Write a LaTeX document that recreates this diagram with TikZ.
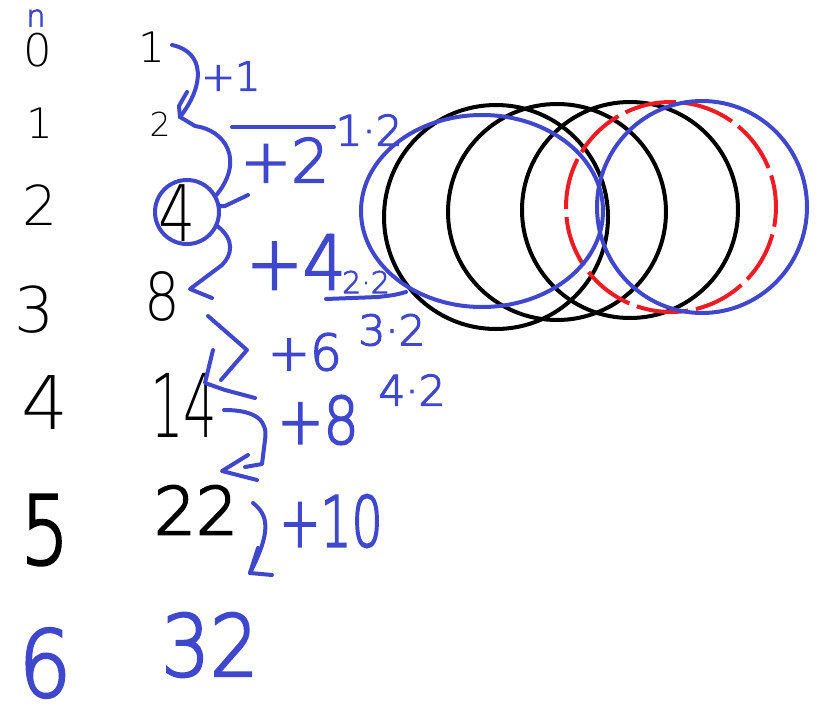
\documentclass[tikz,border=0pt]{standalone}
\usepackage{fontspec}
\setmainfont{Liberation Sans}
\newfontfamily\thinfont{DejaVu Sans ExtraLight}
\newfontfamily\penfont{DejaVu Sans ExtraLight}[FakeBold=3]
\definecolor{pblue}{RGB}{63,72,204}
\definecolor{pred}{RGB}{237,28,36}
\begin{document}
\begin{tikzpicture}[x=1pt,y=-1pt,
  pen/.style={line width=4pt, draw=pblue, line cap=round, line join=round},
  blackpen/.style={line width=4pt, draw=black},
  thinnum/.style={inner sep=0pt, text=black, font=\thinfont\fontsize{#1}{#1}\selectfont},
  boldnum/.style={inner sep=0pt, text=black, font=\penfont\fontsize{#1}{#1}\selectfont},
  bluenum/.style={inner sep=0pt, text=pblue, font=\penfont\fontsize{#1}{#1}\selectfont},
  ringstyle/.style={draw=pblue, line width=4pt, circle, inner sep=0pt, minimum size=64pt}]
\useasboundingbox[fill=white] (0,0) rectangle (824,720);

% left column n
\node[bluenum=30] (nn) at (36,18) {n};
\node[thinnum=45] (r0) at (38,50) {0};
\node[thinnum=42] (r1) at (40,123) {1};
\node[thinnum=55] (r2) at (40,205) {2};
\node[thinnum=63] (r3) at (35,310) {3};
\node[thinnum=74] (r4) at (45,403) {4};
\node[boldnum=95] (r5) at (45,530) {\scalebox{0.8}[1]{5}};
\node[bluenum=92] (r6) at (45,663) {\scalebox{0.9}[1]{6}};

% second column
\node[thinnum=42] (c0) at (152,47) {1};
\node[thinnum=33] (c1) at (160,124) {2};
\node[thinnum=78] (c2) at (177,213) {\scalebox{0.75}[1]{4}};
\node[ringstyle] (ring4) at (187,212) {};
\node[thinnum=66] (c3) at (162,296) {\scalebox{0.85}[1]{8}};
\node[thinnum=88] (c4) at (184,405) {\scalebox{0.6}[1]{14}};
\node[boldnum=66] (c5) at (196,510) {22};
\node[bluenum=85] (c6) at (210,645) {\scalebox{0.9}[1]{32}};

% increments
\node[bluenum=40] (p1) at (231,76) {+1};
\node[bluenum=60] (p2) at (285,160) {+2};
\node[bluenum=42] (m1) at (369,130) {1·2};
\node[bluenum=75] (p4) at (296,262) {\scalebox{0.9}[1]{+4}};
\node[bluenum=30] (m2) at (366,282) {2·2};
\node[bluenum=50] (p6) at (305,352) {+6};
\node[bluenum=42] (m3) at (392,330) {3·2};
\node[bluenum=65] (p8) at (318,420) {\scalebox{0.85}[1]{+8}};
\node[bluenum=42] (m4) at (412,390) {4·2};
\node[bluenum=70] (p10) at (331,521) {\scalebox{0.7}[1]{+10}};

% fraction bar and underline
\draw[pen] (232,127) -- (334,127);
\draw[pen] (326,299) -- (378,297) .. controls (395,295) .. (406,292);

% connectors
\draw[pen] ([shift={(20,-2)}]c0.center) .. controls (205,52) and (205,85) .. ([shift={(20,-7)}]c1.center);
\draw[pen] (187,92) -- (179,106) -- ([shift={(20,-7)}]c1.center);
\draw[pen] ([shift={(20,-7)}]c1.center) -- (195,126) .. controls (225,130) and (245,160) .. (ring4.30);
\draw[pen] (ring4.10) -- (225,206) -- (248,195);
\draw[pen] (ring4.-25) .. controls (235,240) and (232,255) .. (222,265) -- ([shift={(28,-7)}]c3.center) -- (212,298);
\draw[pen] ([shift={(46,20)}]c3.center) -- (247,350) -- (221,380);
\draw[pen] (213,350) -- ([shift={(21,-22)}]c4.center) -- (225,390) -- (255,398);
\draw[pen] ([shift={(40,5)}]c4.center) .. controls (258,410) and (268,422) .. (265,440) -- (262,464) -- (245,467);
\draw[pen] (248,455) -- ([shift={(26,-39)}]c5.center) -- (257,480);
\draw[pen] ([shift={(57,-7)}]c5.center) .. controls (268,515) and (272,530) .. ([shift={(40,-72)}]c6.center);
\draw[pen] (258,548) -- ([shift={(40,-72)}]c6.center) -- (272,575);

% circles
\draw[blackpen] (496,217) circle [x radius=112pt, y radius=112pt];
\draw[blackpen] (557,212) circle [x radius=109pt, y radius=108pt];
\draw[blackpen] (630,210) circle [x radius=108pt, y radius=108pt];
\draw[line width=4pt, draw=pred, dash pattern=on 52pt off 8pt, dash phase=20pt] (671,207) circle [radius=105pt];
\draw[pen] (482,211) circle [x radius=121pt, y radius=96pt];
\draw[pen] (702,207) circle [x radius=105pt, y radius=106pt];
\end{tikzpicture}
\end{document}
